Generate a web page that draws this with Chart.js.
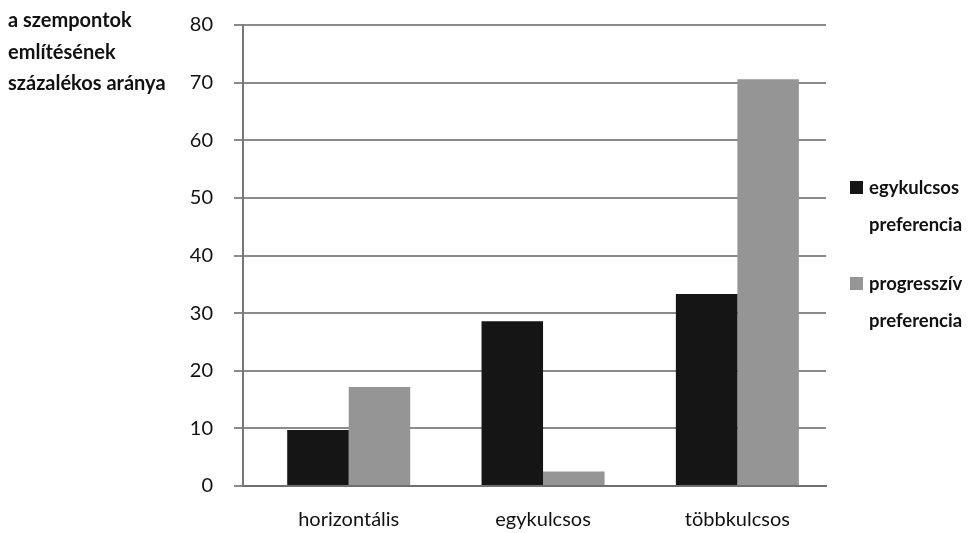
<!DOCTYPE html>
<html>
<head>
<meta charset="utf-8">
<script src="https://cdn.jsdelivr.net/npm/chart.js@4/dist/chart.umd.min.js"></script>
<style>
  html, body { margin: 0; padding: 0; background: #ffffff; }
  #wrap { width: 971px; height: 533px; position: relative; }
</style>
</head>
<body>
<div id="wrap"><canvas id="chart" width="971" height="533"></canvas></div>
<script>
// Categories and series values
const categories = ['horizontális', 'egykulcsos', 'többkulcsos'];
const seriesNames = ['egykulcsos preferencia', 'progresszív preferencia'];
const flatTaxValues = [9.7, 28.6, 33.3];
const progressiveValues = [17.2, 2.5, 70.6];
const yTickValues = [0, 10, 20, 30, 40, 50, 60, 70, 80];
const axisTitleLines = ['a szempontok', 'említésének', 'százalékos aránya'];

const FONT = 'Lato, "Open Sans", sans-serif';
const TEXT = '#111111';
const GRID = '#8a8a8a';

const toPoints = vals => vals.map((v, i) => ({ x: i, y: v }));

// Axis caption in the top-left corner and the two-line legend on the right
const sideTexts = {
  id: 'sideTexts',
  afterDraw(chart) {
    const ctx = chart.ctx;
    ctx.save();
    ctx.fillStyle = TEXT;
    ctx.font = 'bold 20px ' + FONT;
    ctx.textAlign = 'left';
    ctx.textBaseline = 'middle';
    axisTitleLines.forEach((line, i) => ctx.fillText(line, 8, 21 + i * 31.5));

    const tops = [181, 277];
    chart.data.datasets.forEach((ds, i) => {
      ctx.fillStyle = ds.backgroundColor;
      ctx.fillRect(850, tops[i], 13, 13);
      ctx.fillStyle = TEXT;
      ctx.font = 'bold 18.5px ' + FONT;
      const words = ds.label.split(' ');
      ctx.fillText(words[0], 869, tops[i] + 7);
      ctx.fillText(words.slice(1).join(' '), 869, tops[i] + 44);
    });
    ctx.restore();
  }
};

new Chart(document.getElementById('chart'), {
  type: 'bar',
  data: {
    datasets: [
      { label: seriesNames[0], data: toPoints(flatTaxValues), backgroundColor: '#151515' },
      { label: seriesNames[1], data: toPoints(progressiveValues), backgroundColor: '#959595' }
    ]
  },
  options: {
    responsive: false,
    devicePixelRatio: 1,
    animation: false,
    categoryPercentage: 0.633,
    barPercentage: 1.0,
    layout: { padding: { left: 0, right: 145, top: 25, bottom: 0 }, autoPadding: false },
    plugins: {
      legend: { display: false },
      tooltip: { enabled: false },
      title: { display: false }
    },
    scales: {
      x: {
        type: 'linear',
        min: -0.544,
        max: 2.456,
        offset: false,
        afterBuildTicks: s => { s.ticks = categories.map((_, i) => ({ value: i })); },
        afterFit: s => { s.height = 47; s.paddingLeft = 0; s.paddingRight = 0; },
        ticks: {
          autoSkip: false,
          maxRotation: 0,
          padding: 22,
          color: TEXT,
          font: { family: FONT, size: 20 },
          callback: v => categories[v] ?? ''
        },
        grid: { display: true, drawOnChartArea: false, drawTicks: false, color: 'rgba(0,0,0,0)', offset: false },
        border: { display: true, color: '#707070', width: 2 }
      },
      y: {
        min: 0,
        max: 80,
        afterBuildTicks: s => { s.ticks = yTickValues.map(v => ({ value: v })); },
        afterFit: s => { s.width = 243; s.paddingTop = 0; s.paddingBottom = 0; },
        ticks: {
          padding: 21,
          color: TEXT,
          font: { family: FONT, size: 20 }
        },
        grid: { color: GRID, lineWidth: 2, tickLength: 9 },
        border: { display: true, color: '#777777', width: 2 }
      }
    }
  },
  plugins: [sideTexts]
});
</script>
</body>
</html>
